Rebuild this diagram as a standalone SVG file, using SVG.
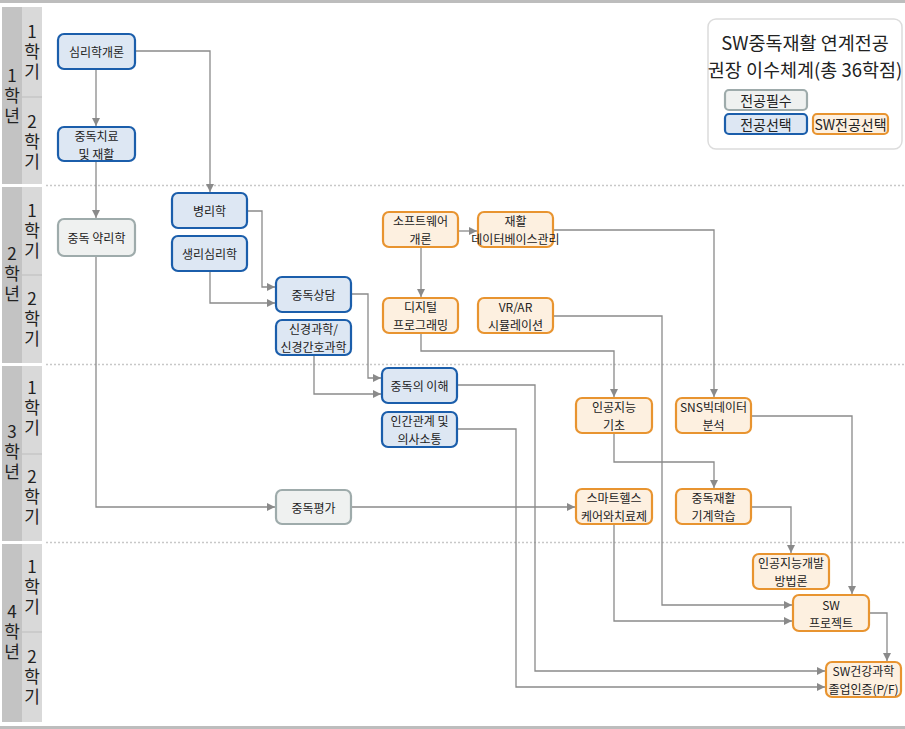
<svg xmlns="http://www.w3.org/2000/svg" width="905" height="729" viewBox="0 0 905 729">
<defs>
<style>
text{font-family:"Noto Sans CJK KR","Noto Sans",sans-serif;fill:#222;dominant-baseline:central;text-anchor:middle}
.n{font-size:12px}
.v{font-size:17px;writing-mode:vertical-rl;text-orientation:upright;letter-spacing:3px}
.blue{fill:#dde7f3;stroke:#1b5eab;stroke-width:2.2}
.orange{fill:#fdf0e0;stroke:#e89430;stroke-width:2.2}
.gray{fill:#eff1f0;stroke:#9eabab;stroke-width:2.2}
.c{fill:none;stroke:#8a8a8a;stroke-width:1.3;marker-end:url(#ah)}
.dot{stroke:#c8c8c8;stroke-width:1.5;stroke-dasharray:2 2}
</style>
<marker id="ah" viewBox="0 0 10 10" refX="10" refY="5" markerWidth="9" markerHeight="8" markerUnits="userSpaceOnUse" orient="auto">
<path d="M0,0 L10,5 L0,10 z" fill="#8a8a8a"/>
</marker>
</defs>
<rect x="0" y="0" width="905" height="729" fill="#fff"/>
<rect x="0" y="0" width="905" height="3" fill="#bdbdbd"/>
<rect x="0" y="726" width="905" height="3" fill="#bdbdbd"/>

<g id="side">
<rect x="2" y="7" width="20" height="177" fill="#c3c3c3"/>
<rect x="22" y="7" width="20" height="177" fill="#d9d9d9"/>
<rect x="2" y="187" width="20" height="176" fill="#c3c3c3"/>
<rect x="22" y="187" width="20" height="176" fill="#d9d9d9"/>
<rect x="2" y="366" width="20" height="175" fill="#c3c3c3"/>
<rect x="22" y="366" width="20" height="175" fill="#d9d9d9"/>
<rect x="2" y="544" width="20" height="178" fill="#c3c3c3"/>
<rect x="22" y="544" width="20" height="178" fill="#d9d9d9"/>
<g stroke="#bdbdbd" stroke-width="1">
<line x1="22" y1="97" x2="42" y2="97"/>
<line x1="22" y1="275" x2="42" y2="275"/>
<line x1="22" y1="454" x2="42" y2="454"/>
<line x1="22" y1="632" x2="42" y2="632"/>
</g>
<text class="v" x="12" y="97">1학년</text>
<text class="v" x="32" y="53">1학기</text>
<text class="v" x="32" y="143">2학기</text>
<text class="v" x="12" y="275">2학년</text>
<text class="v" x="32" y="232">1학기</text>
<text class="v" x="32" y="320">2학기</text>
<text class="v" x="12" y="453">3학년</text>
<text class="v" x="32" y="409">1학기</text>
<text class="v" x="32" y="498">2학기</text>
<text class="v" x="12" y="633">4학년</text>
<text class="v" x="32" y="588">1학기</text>
<text class="v" x="32" y="678">2학기</text>
</g>

<g id="grid">
<line class="dot" x1="46" y1="185.5" x2="905" y2="185.5"/>
<line class="dot" x1="46" y1="364.5" x2="905" y2="364.5"/>
<line class="dot" x1="46" y1="542.5" x2="905" y2="542.5"/>
</g>

<g id="legend">
<rect x="708" y="19" width="194" height="130" rx="8" fill="#fff" stroke="#dcdcdc" stroke-width="1.5"/>
<text x="805" y="41.5" style="font-size:18.5px">SW중독재활 연계전공<tspan x="805" y="68.5">권장 이수체계(총 36학점)</tspan></text>
<rect class="gray" x="725" y="90" width="82" height="20" rx="4"/>
<text x="766" y="100" style="font-size:14px">전공필수</text>
<rect class="blue" x="725" y="114" width="82" height="20" rx="4"/>
<text x="766" y="124" style="font-size:14px">전공선택</text>
<rect class="orange" x="813" y="114" width="75" height="20" rx="4"/>
<text x="850.5" y="124" style="font-size:14px">SW전공선택</text>
</g>

<g id="connectors">
<path class="c" d="M96,69 V126"/>
<path class="c" d="M135,51 H210 V192"/>
<path class="c" d="M96,161 V218"/>
<path class="c" d="M96,256 V507 H275"/>
<path class="c" d="M247,211 H262 V287 H275"/>
<path class="c" d="M210,271 V303 H275"/>
<path class="c" d="M351,294 H368 V378 H381"/>
<path class="c" d="M314,355 V394 H381"/>
<path class="c" d="M457,385 H535 V671 H825"/>
<path class="c" d="M457,429 H516 V687 H825"/>
<path class="c" d="M351,507 H575"/>
<path class="c" d="M458,231 H477"/>
<path class="c" d="M421,247 V297"/>
<path class="c" d="M553,230 H714 V397"/>
<path class="c" d="M421,333 V351 H614 V397"/>
<path class="c" d="M553,316 H662 V605 H792"/>
<path class="c" d="M614,433 V462 H714 V488"/>
<path class="c" d="M751,416 H852 V594"/>
<path class="c" d="M614,524 V621 H792"/>
<path class="c" d="M751,507 H791 V553"/>
<path class="c" d="M869,613 H887 V661"/>
</g>

<g id="n1"><rect class="blue" x="58" y="34" width="77" height="35" rx="6"/><text class="n" x="96.5" y="51.5">심리학개론</text></g>
<g id="n2"><rect class="blue" x="58" y="127" width="77" height="34" rx="6"/><text class="n" x="96.5" y="135.25">중독치료<tspan x="96.5" y="152.75">및 재활</tspan></text></g>
<g id="n3"><rect class="gray" x="58" y="219" width="77" height="37" rx="6"/><text class="n" x="96.5" y="237.5">중독 약리학</text></g>
<g id="n4"><rect class="blue" x="172" y="193" width="75" height="35" rx="6"/><text class="n" x="209.5" y="210.5">병리학</text></g>
<g id="n5"><rect class="blue" x="172" y="236" width="75" height="35" rx="6"/><text class="n" x="209.5" y="253.5">생리심리학</text></g>
<g id="n6"><rect class="blue" x="276" y="277" width="75" height="35" rx="6"/><text class="n" x="313.5" y="294.5">중독상담</text></g>
<g id="n7"><rect class="blue" x="276" y="320" width="75" height="35" rx="6"/><text class="n" x="313.5" y="328.75">신경과학/<tspan x="313.5" y="346.25">신경간호과학</tspan></text></g>
<g id="n8"><rect class="blue" x="382" y="368" width="75" height="35" rx="6"/><text class="n" x="419.5" y="385.5">중독의 이해</text></g>
<g id="n9"><rect class="blue" x="382" y="412" width="75" height="35" rx="6"/><text class="n" x="419.5" y="420.75">인간관계 및<tspan x="419.5" y="438.25">의사소통</tspan></text></g>
<g id="n10"><rect class="gray" x="276" y="490" width="75" height="34" rx="6"/><text class="n" x="313.5" y="507">중독평가</text></g>
<g id="n11"><rect class="orange" x="383" y="212" width="75" height="35" rx="6"/><text class="n" x="420.5" y="220.75">소프트웨어<tspan x="420.5" y="238.25">개론</tspan></text></g>
<g id="n12"><rect class="orange" x="478" y="212" width="75" height="35" rx="6"/><text class="n" x="515.5" y="220.75">재활<tspan x="515.5" y="238.25">데이터베이스관리</tspan></text></g>
<g id="n13"><rect class="orange" x="383" y="298" width="75" height="35" rx="6"/><text class="n" x="420.5" y="306.75">디지털<tspan x="420.5" y="324.25">프로그래밍</tspan></text></g>
<g id="n14"><rect class="orange" x="478" y="298" width="75" height="35" rx="6"/><text class="n" x="515.5" y="306.75">VR/AR<tspan x="515.5" y="324.25">시뮬레이션</tspan></text></g>
<g id="n15"><rect class="orange" x="576" y="398" width="76" height="35" rx="6"/><text class="n" x="614" y="406.75">인공지능<tspan x="614" y="424.25">기초</tspan></text></g>
<g id="n16"><rect class="orange" x="676" y="398" width="75" height="35" rx="6"/><text class="n" x="713.5" y="406.75">SNS빅데이터<tspan x="713.5" y="424.25">분석</tspan></text></g>
<g id="n17"><rect class="orange" x="576" y="489" width="76" height="35" rx="6"/><text class="n" x="614" y="497.75">스마트헬스<tspan x="614" y="515.25">케어와치료제</tspan></text></g>
<g id="n18"><rect class="orange" x="676" y="489" width="75" height="35" rx="6"/><text class="n" x="713.5" y="497.75">중독재활<tspan x="713.5" y="515.25">기계학습</tspan></text></g>
<g id="n19"><rect class="orange" x="753" y="554" width="76" height="35" rx="6"/><text class="n" x="791" y="562.75">인공지능개발<tspan x="791" y="580.25">방법론</tspan></text></g>
<g id="n20"><rect class="orange" x="793" y="595" width="76" height="36" rx="6"/><text class="n" x="831" y="604.25">SW<tspan x="831" y="621.75">프로젝트</tspan></text></g>
<g id="n21"><rect class="orange" x="826" y="662" width="75" height="35" rx="6"/><text class="n" x="863.5" y="670.75">SW건강과학<tspan x="863.5" y="688.25">졸업인증(P/F)</tspan></text></g>
</svg>
